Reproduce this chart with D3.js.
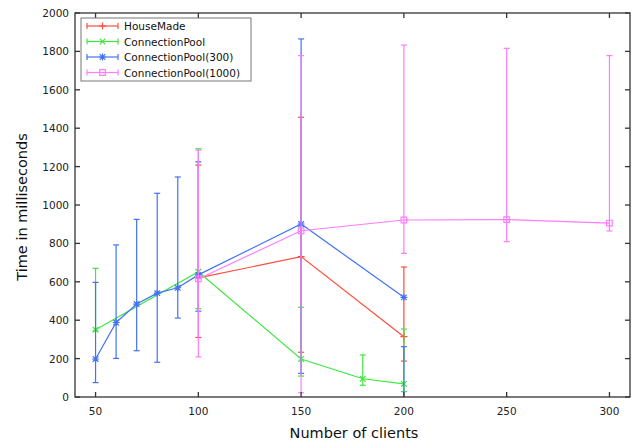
<!DOCTYPE html>
<html>
<head>
<meta charset="utf-8">
<script src="https://cdn.jsdelivr.net/npm/d3@7"></script>
<style>
  body { margin: 0; background: #fff; }
  svg { display: block; font-family: "DejaVu Sans", sans-serif; }
</style>
</head>
<body>
<svg id="chart" width="635" height="445"></svg>
<script>
// series: x = number of clients, y = mean, low/high = error bar ends
const houseX = [100, 150, 200];
const houseY = [620, 731, 314];
const houseLow = [310, 233, 187];
const houseHigh = [1208, 1457, 677];

const poolX = [50, 100, 150, 180, 200];
const poolY = [350, 652, 198, 95, 68];
const poolLow = [345, 460, 109, 61, 28];
const poolHigh = [670, 1293, 467, 219, 354];

const pool300X = [50, 60, 70, 80, 90, 100, 150, 200];
const pool300Y = [198, 388, 484, 541, 569, 636, 901, 519];
const pool300Low = [75, 201, 241, 181, 411, 447, 123, -100];
const pool300High = [597, 792, 925, 1061, 1146, 1225, 1865, 262];

const pool1000X = [100, 150, 200, 250, 300];
const pool1000Y = [615, 866, 922, 924, 906];
const pool1000Low = [209, 22, 748, 809, 865];
const pool1000High = [1286, 1778, 1833, 1816, 1778];

const xTicks = [50, 100, 150, 200, 250, 300];
const yTicks = [0, 200, 400, 600, 800, 1000, 1200, 1400, 1600, 1800, 2000];

const toRows = (xs, ys, lo, hi) => xs.map((x, i) => ({ x, y: ys[i], lo: lo[i], hi: hi[i] }));

const series = [
  { name: "HouseMade", color: "#ff4d3a", marker: "plus", rows: toRows(houseX, houseY, houseLow, houseHigh) },
  { name: "ConnectionPool", color: "#3ee83e", marker: "cross", rows: toRows(poolX, poolY, poolLow, poolHigh) },
  { name: "ConnectionPool(300)", color: "#4372f7", marker: "star", rows: toRows(pool300X, pool300Y, pool300Low, pool300High) },
  { name: "ConnectionPool(1000)", color: "#ff7bff", marker: "square", rows: toRows(pool1000X, pool1000Y, pool1000Low, pool1000High) },
];

const svg = d3.select("#chart");
const mLeft = 75, mRight = 630, mTop = 13, mBottom = 397;

const x = d3.scaleLinear().domain([40, 310]).range([mLeft, mRight]);
const y = d3.scaleLinear().domain([0, 2000]).range([mBottom, mTop]);

svg.append("defs").append("clipPath").attr("id", "plot-clip")
  .append("rect")
  .attr("x", mLeft).attr("y", mTop)
  .attr("width", mRight - mLeft).attr("height", mBottom - mTop);

// markers drawn as small paths around (0,0)
function markerPath(type, s) {
  const p = d3.path();
  if (type === "plus" || type === "star") {
    p.moveTo(-s, 0); p.lineTo(s, 0);
    p.moveTo(0, -s); p.lineTo(0, s);
  }
  if (type === "cross" || type === "star") {
    const d = s * 0.8;
    p.moveTo(-d, -d); p.lineTo(d, d);
    p.moveTo(-d, d); p.lineTo(d, -d);
  }
  if (type === "square") {
    p.rect(-s * 0.8, -s * 0.8, s * 1.6, s * 1.6);
  }
  return p.toString();
}

const plot = svg.append("g").attr("clip-path", "url(#plot-clip)");
const cap = 3;

series.forEach(s => {
  const g = plot.append("g").attr("stroke", s.color).attr("fill", "none").attr("stroke-width", 1.2);

  // error bars
  const bars = g.selectAll("g.err").data(s.rows).join("g").attr("class", "err");
  bars.append("line")
    .attr("x1", d => x(d.x)).attr("x2", d => x(d.x))
    .attr("y1", d => y(d.lo)).attr("y2", d => y(d.hi));
  bars.append("line")
    .attr("x1", d => x(d.x) - cap).attr("x2", d => x(d.x) + cap)
    .attr("y1", d => y(d.lo)).attr("y2", d => y(d.lo));
  bars.append("line")
    .attr("x1", d => x(d.x) - cap).attr("x2", d => x(d.x) + cap)
    .attr("y1", d => y(d.hi)).attr("y2", d => y(d.hi));

  // connecting line
  g.append("path")
    .attr("d", d3.line().x(d => x(d.x)).y(d => y(d.y))(s.rows));

  // markers
  g.selectAll("path.mk").data(s.rows).join("path")
    .attr("class", "mk")
    .attr("transform", d => `translate(${x(d.x)},${y(d.y)})`)
    .attr("d", markerPath(s.marker, 3.5));
});

// frame and inward ticks (mirrored on top and right)
const axisColor = "#333";
const tickLen = 5;
const frame = svg.append("g").attr("stroke", axisColor).attr("stroke-width", 1.3).attr("fill", "none");
frame.append("rect").attr("x", mLeft).attr("y", mTop).attr("width", mRight - mLeft).attr("height", mBottom - mTop);

xTicks.forEach(t => {
  frame.append("line").attr("x1", x(t)).attr("x2", x(t)).attr("y1", mBottom).attr("y2", mBottom - tickLen);
  frame.append("line").attr("x1", x(t)).attr("x2", x(t)).attr("y1", mTop).attr("y2", mTop + tickLen);
});
yTicks.forEach(t => {
  frame.append("line").attr("x1", mLeft).attr("x2", mLeft + tickLen).attr("y1", y(t)).attr("y2", y(t));
  frame.append("line").attr("x1", mRight).attr("x2", mRight - tickLen).attr("y1", y(t)).attr("y2", y(t));
});

const labels = svg.append("g").attr("fill", "#222").attr("font-size", "10.5px");
labels.selectAll("text.xt").data(xTicks).join("text")
  .attr("class", "xt")
  .attr("x", d => x(d)).attr("y", 415)
  .attr("text-anchor", "middle")
  .text(d => d);
labels.selectAll("text.yt").data(yTicks).join("text")
  .attr("class", "yt")
  .attr("x", 69).attr("y", d => y(d) + 4)
  .attr("text-anchor", "end")
  .text(d => d);

svg.append("text")
  .attr("x", 354).attr("y", 438)
  .attr("text-anchor", "middle")
  .attr("font-size", "14.5px").attr("fill", "#111")
  .text("Number of clients");

svg.append("text")
  .attr("transform", "translate(27,207) rotate(-90)")
  .attr("text-anchor", "middle")
  .attr("font-size", "14.5px").attr("fill", "#111")
  .text("Time in milliseconds");

// legend
const legend = svg.append("g");
legend.append("rect")
  .attr("x", 81).attr("y", 18).attr("width", 170).attr("height", 63)
  .attr("fill", "#fff").attr("stroke", "#777").attr("stroke-width", 1);

series.forEach((s, i) => {
  const ly = 26 + i * 15.5;
  const row = legend.append("g").attr("stroke", s.color).attr("fill", "none").attr("stroke-width", 1.2);
  row.append("line").attr("x1", 87).attr("x2", 118).attr("y1", ly).attr("y2", ly);
  row.append("line").attr("x1", 87).attr("x2", 87).attr("y1", ly - cap).attr("y2", ly + cap);
  row.append("line").attr("x1", 118).attr("x2", 118).attr("y1", ly - cap).attr("y2", ly + cap);
  row.append("path").attr("transform", `translate(102.5,${ly})`).attr("d", markerPath(s.marker, 3.5));
  legend.append("text")
    .attr("x", 124).attr("y", ly + 4)
    .attr("font-size", "10.5px").attr("fill", "#111")
    .text(s.name);
});
</script>
</body>
</html>
